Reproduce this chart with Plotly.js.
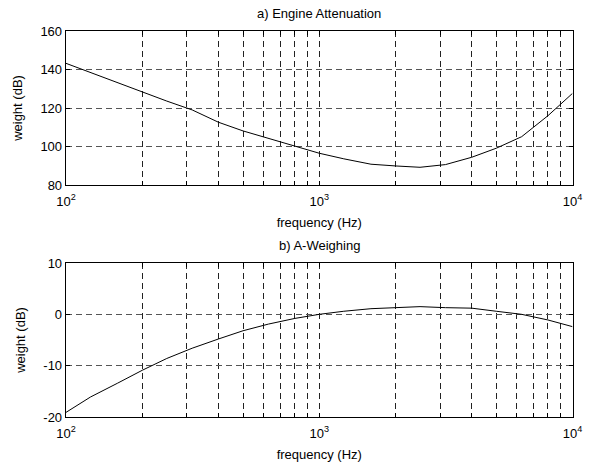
<!DOCTYPE html>
<html>
<head>
<meta charset="utf-8">
<script src="https://cdn.plot.ly/plotly-3.0.1.min.js"></script>
<style>html,body{margin:0;padding:0;background:#fff;}#plot{width:595px;height:468px;}</style>
</head>
<body>
<div id="plot"></div>
<script>
// 1/3-octave band centre frequencies (Hz)
const freq = [100,125,160,200,250,315,400,500,630,800,1000,1250,1600,2000,2500,3150,4000,5000,6300,8000,10000];
// a) Engine attenuation (dB)
const engineAtt = [143.2,138.4,133.0,128.2,123.6,119.0,112.6,108.1,104.2,100.2,96.5,93.6,90.8,89.9,89.2,90.6,94.4,99.1,105.1,116.0,127.6];
// b) A-weighting (dB)
const aWeight = [-19.1,-16.1,-13.4,-10.9,-8.6,-6.6,-4.8,-3.2,-1.9,-0.8,0.0,0.6,1.1,1.3,1.5,1.3,1.2,0.6,0.0,-1.1,-2.4];

const titleA = "a) Engine Attenuation";
const titleB = "b) A-Weighing";
const xLabel = "frequency (Hz)";
const yLabel = "weight (dB)";
const yTicksA = [80,100,120,140,160];
const yTicksB = [-20,-10,0,10];

const xTickVals = [];
const xTickText = [];
[100,1000].forEach(function(d){ for(let k=1;k<10;k++){ xTickVals.push(d*k); xTickText.push(k===1 ? "10<sup>"+Math.round(Math.log10(d))+"</sup>" : ""); } });
xTickVals.push(10000); xTickText.push("10<sup>4</sup>");

const font = {family:"Liberation Sans, Arial, sans-serif", size:13, color:"#000"};
const W = 595, H = 468;
const xDom = [66/W, 572.5/W];

function xax(anchor){
  return {type:"log", range:[2,4], domain:xDom, anchor:anchor,
    tickvals:xTickVals, ticktext:xTickText, tickmode:"array",
    showgrid:true, gridcolor:"#222", griddash:"6px,4px", gridwidth:1,
    showline:true, linecolor:"#000", linewidth:1.3, mirror:"ticks",
    ticks:"inside", ticklen:4, tickcolor:"#000", zeroline:false,
    ticklabelstandoff:4,
    tickfont:font, title:{text:xLabel, font:font, standoff:10}};
}
function yax(anchor, rng, ticks, dom){
  return {range:rng, domain:dom, anchor:anchor,
    tickmode:"array", tickvals:ticks, ticktext:ticks.map(String),
    showgrid:true, gridcolor:"#555", griddash:"6px,4px", gridwidth:1,
    showline:true, linecolor:"#000", linewidth:1.3, mirror:"ticks",
    ticks:"inside", ticklen:4, tickcolor:"#000", zeroline:false,
    tickfont:font, title:{text:yLabel, font:font, standoff:14}};
}

const data = [
  {x:freq, y:engineAtt, xaxis:"x", yaxis:"y", type:"scatter", mode:"lines", line:{color:"#000", width:1}},
  {x:freq, y:aWeight, xaxis:"x2", yaxis:"y2", type:"scatter", mode:"lines", line:{color:"#000", width:1}}
];

const layout = {
  width:W, height:H, margin:{l:0,r:0,t:0,b:0}, showlegend:false,
  paper_bgcolor:"#fff", plot_bgcolor:"#fff", font:font,
  xaxis: xax("y"),
  yaxis: yax("x", [80,160], yTicksA, [(H-185)/H, (H-31)/H]),
  xaxis2: xax("y2"),
  yaxis2: yax("x2", [-20,10], yTicksB, [(H-417)/H, (H-263)/H]),
  annotations:[
    {text:titleA, xref:"paper", yref:"paper", x:(66+572.5)/2/W, y:(H-13)/H, xanchor:"center", yanchor:"middle", showarrow:false, font:font},
    {text:titleB, xref:"paper", yref:"paper", x:(66+572.5)/2/W, y:(H-245)/H, xanchor:"center", yanchor:"middle", showarrow:false, font:font}
  ]
};

Plotly.newPlot("plot", data, layout, {staticPlot:true});
</script>
</body>
</html>
